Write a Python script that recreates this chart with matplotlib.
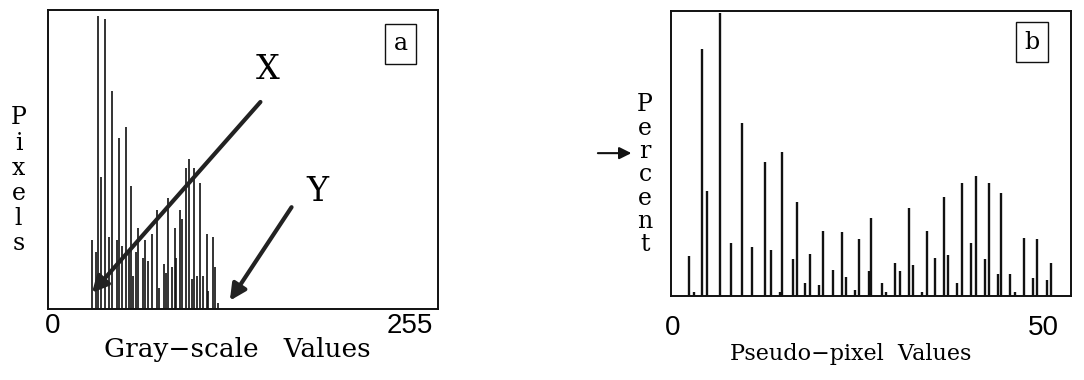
# Two histograms: gray-scale pixel counts (a) -> pseudo-pixel percentages (b)
import matplotlib
matplotlib.use("Agg")
import matplotlib.pyplot as plt

# -----------------------------
# Data
# -----------------------------
gray_values = [28, 31, 32, 34, 37, 40, 42, 46, 47, 49,
               52, 54, 56, 57, 59, 61, 64, 66, 68, 71,
               74, 76, 79, 81, 82, 85, 87, 88, 91, 92,
               95, 97, 99, 101, 103, 105, 107, 110, 111, 114,
               116, 118]
gray_pixels = [23, 19, 98, 44, 97, 24, 73, 23, 57, 21,
               61, 19, 41, 11, 19, 27, 17, 23, 16, 25,
               33, 7, 15, 12, 37, 14, 27, 17, 33, 30,
               47, 50, 10, 47, 11, 42, 11, 25, 6, 24,
               14, 2]

pseudo_values = [2.2, 2.9, 3.9, 4.6, 6.4, 7.8, 9.3, 10.7, 12.4, 13.2,
                 14.4, 14.8, 16.2, 16.8, 17.9, 18.5, 19.7, 20.3, 21.6, 22.8,
                 23.4, 24.6, 25.2, 26.5, 26.8, 28.2, 28.8, 30.0, 30.7, 31.9,
                 32.5, 33.7, 34.3, 35.4, 36.6, 37.2, 38.4, 39.0, 40.3, 40.9,
                 42.2, 42.7, 43.9, 44.4, 45.6, 46.2, 47.4, 48.7, 49.2, 50.5,
                 51.1]
pseudo_percent = [14.0, 1.4, 86.7, 36.8, 99.3, 18.6, 60.7, 17.2, 47.0, 16.1,
                  1.4, 50.5, 13.0, 33.0, 4.6, 14.7, 3.9, 22.8, 9.1, 22.5,
                  6.7, 2.1, 20.0, 8.8, 27.4, 4.6, 1.4, 11.6, 8.8, 30.9,
                  10.9, 1.4, 22.8, 13.3, 34.7, 14.4, 4.6, 39.6, 18.6, 42.1,
                  13.0, 39.6, 7.7, 36.1, 7.7, 1.4, 20.4, 6.3, 20.0, 5.6,
                  11.6]

serif = ["DejaVu Serif"]
narrow = ["Liberation Sans Narrow", "Liberation Sans"]
ink = "#111111"

fig = plt.figure(figsize=(10.84, 3.8), dpi=100)

# -----------------------------
# Panel a: gray-scale histogram
# -----------------------------
ax_a = fig.add_axes([0.0443, 0.187, 0.36, 0.787])
ax_a.vlines(gray_values, 0, gray_pixels, color=ink, lw=1.2)
ax_a.set_xlim(-3.5, 275)
ax_a.set_ylim(0, 100)
ax_a.set_yticks([])
ax_a.set_xticks([0, 255])
ax_a.set_xticklabels(["0", "255"], family=narrow, fontsize=20)
ax_a.tick_params(axis="x", length=0, pad=3)
ax_a.set_xlabel("Gray\u2212scale   Values", family=serif, fontsize=19, labelpad=0)
ax_a.xaxis.set_label_coords(0.485, -0.095, transform=ax_a.transAxes)
ax_a.xaxis.label.set_va("top")

# arrows pointing at the two regions
ax_a.annotate("", xy=(0.108, 0.047), xytext=(0.549, 0.699), xycoords="axes fraction",
              arrowprops=dict(arrowstyle="-|>", lw=3.0, color="#222222", mutation_scale=24))
ax_a.annotate("", xy=(0.462, 0.02), xytext=(0.628, 0.348), xycoords="axes fraction",
              arrowprops=dict(arrowstyle="-|>", lw=3.0, color="#222222", mutation_scale=24))
ax_a.text(0.564, 0.80, "X", transform=ax_a.transAxes, family=serif, fontsize=24,
          ha="center", va="center")
ax_a.text(0.69, 0.39, "Y", transform=ax_a.transAxes, family=serif, fontsize=24,
          ha="center", va="center")
ax_a.text(0.903, 0.886, "a", transform=ax_a.transAxes, family=serif, fontsize=17,
          ha="center", va="center",
          bbox=dict(boxstyle="square,pad=0.35", fc="white", ec=ink, lw=1))

# stacked vertical y label
fig.text(0.017, 0.524, "\n".join("Pixels"), family=serif, fontsize=17,
         ha="center", va="center", linespacing=1.12)

# -----------------------------
# Panel b: pseudo-pixel histogram
# -----------------------------
ax_b = fig.add_axes([0.619, 0.221, 0.369, 0.75])
ax_b.vlines(pseudo_values, 0, pseudo_percent, color=ink, lw=1.7)
ax_b.set_xlim(-0.27, 53.8)
ax_b.set_ylim(0, 100)
ax_b.set_yticks([])
ax_b.set_xticks([0, 50])
ax_b.set_xticklabels(["0", "50"], family=narrow, fontsize=20)
ax_b.tick_params(axis="x", length=0, pad=14)
ax_b.set_xlabel("Pseudo\u2212pixel  Values", family=serif, fontsize=16, labelpad=1)
ax_b.xaxis.set_label_coords(0.45, -0.165, transform=ax_b.transAxes)
ax_b.xaxis.label.set_va("top")
ax_b.text(0.903, 0.891, "b", transform=ax_b.transAxes, family=serif, fontsize=17,
          ha="center", va="center",
          bbox=dict(boxstyle="square,pad=0.35", fc="white", ec=ink, lw=1))

fig.text(0.595, 0.54, "\n".join("Percent"), family=serif, fontsize=17,
         ha="center", va="center", linespacing=1.02)

for ax in (ax_a, ax_b):
    for sp in ax.spines.values():
        sp.set_linewidth(1.4)
        sp.set_color(ink)

# arrow between the panels
fig.add_artist(matplotlib.patches.FancyArrowPatch(
    (0.549, 0.597), (0.585, 0.597), transform=fig.transFigure,
    arrowstyle="-|>", mutation_scale=18, lw=1.5, color=ink))

fig.savefig("out.png", dpi=100, facecolor="white")
